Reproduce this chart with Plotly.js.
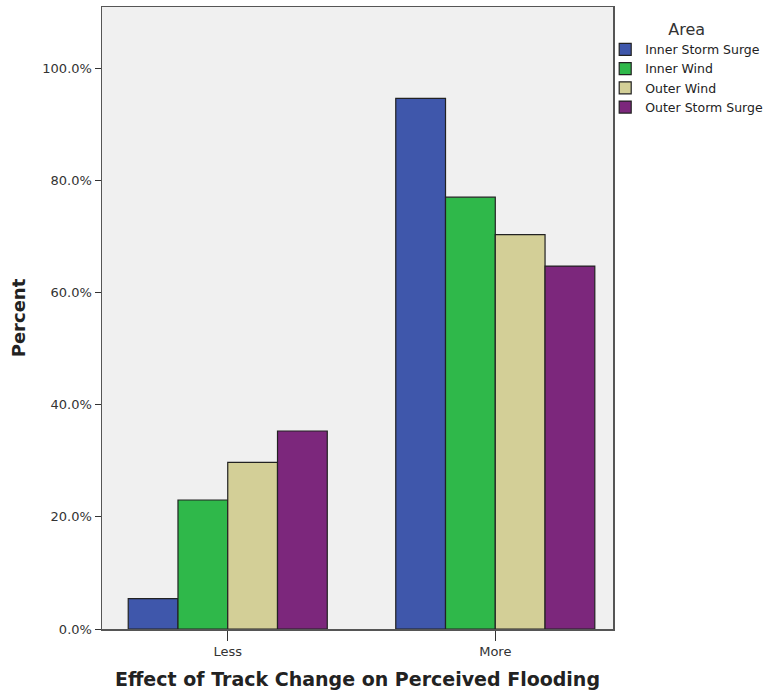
<!DOCTYPE html>
<html>
<head>
<meta charset="utf-8">
<script src="https://cdn.plot.ly/plotly-3.0.1.min.js"></script>
<style>html,body{margin:0;padding:0;background:#fff}#chart{width:769px;height:696px}</style>
</head>
<body>
<div id="chart"></div>
<script>
const categories = ["Less", "More"];
const seriesNames = ["Inner Storm Surge", "Inner Wind", "Outer Wind", "Outer Storm Surge"];
const innerStormSurge = [5.4, 94.6];
const innerWind = [23.0, 77.0];
const outerWind = [29.7, 70.3];
const outerStormSurge = [35.3, 64.7];
const seriesColors = ["#3f57ab", "#2fb84a", "#d3cf97", "#7c277c"];
const yTickVals = [0, 20, 40, 60, 80, 100];

const seriesValues = [innerStormSurge, innerWind, outerWind, outerStormSurge];
const traces = seriesNames.map((name, i) => ({
  type: "bar",
  name: name,
  x: categories,
  y: seriesValues[i],
  marker: {color: seriesColors[i], line: {color: "#222", width: 1.2}},
  hoverinfo: "skip"
}));

const layout = {
  width: 769, height: 696,
  margin: {l: 102, r: 156, t: 7, b: 67, autoexpand: false},
  paper_bgcolor: "#ffffff",
  plot_bgcolor: "#f0f0f0",
  barmode: "group",
  bargap: 0.256,
  bargroupgap: 0,
  font: {family: "DejaVu Sans, sans-serif", color: "#333", size: 13},
  xaxis: {
    range: [-0.47, 1.44],
    showgrid: false,
    zeroline: false,
    showline: true, linecolor: "#555", linewidth: 1.5, mirror: true,
    ticks: "outside", ticklen: 10, tickcolor: "#333", tickwidth: 1,
    tickfont: {size: 13, color: "#333"},
    title: {text: "Effect of Track Change on Perceived Flooding", font: {size: 19, color: "#222", family: "DejaVu Sans, sans-serif", weight: "bold"}, standoff: 14}
  },
  yaxis: {
    range: [0, 110.9],
    tickvals: yTickVals,
    ticktext: yTickVals.map(v => v.toFixed(1) + "%"),
    showgrid: false,
    zeroline: false,
    showline: true, linecolor: "#555", linewidth: 1.5, mirror: true,
    ticks: "outside", ticklen: 6, tickcolor: "#333", tickwidth: 1,
    tickfont: {size: 13, color: "#333"},
    title: {text: "Percent", font: {size: 18, color: "#222", family: "DejaVu Sans, sans-serif", weight: "bold"}, standoff: 12}
  },
  legend: {
    xref: "container", yref: "container",
    x: 0.787, xanchor: "left", y: 0.98, yanchor: "top",
    title: {text: "Area", side: "top center", font: {size: 16, color: "#333"}},
    font: {size: 12.5, color: "#222"},
    traceorder: "normal",
    bgcolor: "rgba(0,0,0,0)",
    tracegroupgap: 0
  },
  showlegend: true
};

Plotly.newPlot("chart", traces, layout, {staticPlot: true, displayModeBar: false});
</script>
</body>
</html>
